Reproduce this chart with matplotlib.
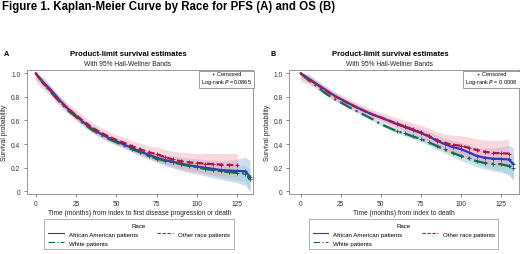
"""Kaplan-Meier curves by race for PFS (A) and OS (B)."""
import matplotlib

matplotlib.use("Agg")
import matplotlib.pyplot as plt
import numpy as np
from matplotlib.lines import Line2D

plt.rcParams["font.family"] = ["Liberation Sans", "DejaVu Sans"]

# Shared time grid (months)
times = [0, 5, 10, 15, 20, 25, 30, 35, 40, 45, 50, 55, 60, 65, 70,
         75, 80, 85, 90, 95, 100, 105, 110, 115, 120, 125, 130, 133]

groups = ["African American patients", "White patients", "Other race patients"]

# Panel A: PFS survival estimates
pfs_aa = [1.0, 0.92, 0.85, 0.77, 0.70, 0.64, 0.58, 0.53, 0.49, 0.455, 0.425,
          0.395, 0.365, 0.335, 0.31, 0.285, 0.265, 0.25, 0.235, 0.22, 0.21,
          0.20, 0.19, 0.18, 0.175, 0.172, 0.17, 0.12]
pfs_white = [1.0, 0.91, 0.83, 0.755, 0.685, 0.63, 0.57, 0.52, 0.48, 0.445,
             0.415, 0.385, 0.355, 0.33, 0.30, 0.275, 0.26, 0.245, 0.23, 0.215,
             0.203, 0.19, 0.18, 0.17, 0.162, 0.155, 0.15, 0.10]
pfs_other = [1.0, 0.91, 0.84, 0.76, 0.70, 0.645, 0.59, 0.54, 0.50, 0.465,
             0.435, 0.41, 0.38, 0.355, 0.33, 0.316, 0.29, 0.27, 0.255, 0.245,
             0.24, 0.235, 0.23, 0.226, 0.223, 0.222]
# Hall-Wellner band half widths
pfs_aa_hw = [0.05, 0.035, 0.03, 0.03, 0.03, 0.03, 0.03, 0.03, 0.03, 0.03,
             0.03, 0.03, 0.032, 0.034, 0.036, 0.04, 0.045, 0.05, 0.055, 0.06,
             0.065, 0.07, 0.075, 0.08, 0.09, 0.1, 0.12, 0.14]
pfs_white_hw = [0.03, 0.02, 0.015, 0.015, 0.015, 0.015, 0.015, 0.015, 0.015,
                0.015, 0.015, 0.015, 0.016, 0.018, 0.02, 0.022, 0.025, 0.028,
                0.03, 0.033, 0.036, 0.04, 0.045, 0.05, 0.055, 0.06, 0.07, 0.09]
pfs_other_hw = [0.07, 0.05, 0.045, 0.045, 0.045, 0.045, 0.045, 0.045, 0.045,
                0.045, 0.045, 0.045, 0.048, 0.05, 0.055, 0.06, 0.065, 0.07,
                0.075, 0.08, 0.08, 0.085, 0.09, 0.095, 0.095, 0.1]

# Panel B: OS survival estimates
os_aa = [1.0, 0.955, 0.91, 0.865, 0.82, 0.782, 0.745, 0.712, 0.68, 0.65,
         0.625, 0.598, 0.57, 0.545, 0.52, 0.495, 0.465, 0.43, 0.40, 0.375,
         0.358, 0.33, 0.30, 0.285, 0.276, 0.274, 0.27, 0.23]
os_white = [1.0, 0.94, 0.89, 0.835, 0.79, 0.754, 0.715, 0.68, 0.645, 0.61,
            0.57, 0.54, 0.51, 0.49, 0.465, 0.443, 0.415, 0.385, 0.355, 0.325,
            0.30, 0.28, 0.255, 0.24, 0.232, 0.23, 0.215, 0.20]
os_other = [1.0, 0.95, 0.905, 0.86, 0.815, 0.78, 0.745, 0.71, 0.68, 0.65,
            0.627, 0.60, 0.575, 0.55, 0.525, 0.50, 0.47, 0.435, 0.41, 0.395,
            0.386, 0.37, 0.35, 0.335, 0.325, 0.322, 0.32]
os_aa_hw = [0.05, 0.03, 0.025, 0.025, 0.025, 0.025, 0.025, 0.025, 0.025,
            0.025, 0.025, 0.027, 0.03, 0.032, 0.035, 0.038, 0.04, 0.045, 0.05,
            0.055, 0.06, 0.065, 0.07, 0.08, 0.09, 0.1, 0.12, 0.14]
os_white_hw = [0.03, 0.015, 0.012, 0.012, 0.012, 0.012, 0.012, 0.012, 0.013,
               0.014, 0.015, 0.016, 0.018, 0.02, 0.022, 0.025, 0.028, 0.03,
               0.033, 0.036, 0.04, 0.045, 0.05, 0.055, 0.06, 0.07, 0.08, 0.1]
os_other_hw = [0.07, 0.045, 0.04, 0.04, 0.04, 0.04, 0.04, 0.04, 0.04, 0.04,
               0.042, 0.045, 0.048, 0.05, 0.055, 0.06, 0.065, 0.07, 0.075,
               0.08, 0.085, 0.09, 0.095, 0.1, 0.105, 0.11, 0.12]

pvalues = ["=0.0865", "= 0.0008"]
xlabels = ["Time (months) from index to first disease progression or death",
           "Time (months) from index to death"]

colors = ["#3535c0", "#0f6b52", "#b3143f"]
band_colors = ["#9fb0e6", "#8fcfc6", "#f2a9b6"]
styles = ["-", (0, (6, 2, 1, 2)), (0, (3, 1.5))]
xticks = [0, 25, 50, 75, 100, 125]


def draw_panel(ax, curves, widths, xlabel, pval):
    t_all = np.array(times)
    for i, (surv, hw) in enumerate(zip(curves, widths)):
        s = np.array(surv)
        t = t_all[: len(s)]
        h = np.array(hw)
        ax.fill_between(t, np.clip(s - h, 0, 1), np.clip(s + h, 0, 1),
                        color=band_colors[i], alpha=0.45, lw=0)
    for i, surv in enumerate(curves):
        s = np.array(surv)
        t = t_all[: len(s)]
        ax.plot(t, s, color=colors[i], lw=1.6, ls=styles[i],
                marker="+", ms=3.2, mew=0.7,
                markevery=list(range(12, len(s))))
    ax.set_ylim(-0.023, 1.028)
    ax.set_yticks([0, 0.2, 0.4, 0.6, 0.8, 1.0])
    ax.set_yticklabels(["0", "0.2", "0.4", "0.6", "0.8", "1.0"])
    ax.set_xticks(xticks)
    ax.tick_params(labelsize=4.8, length=2, width=0.5, pad=2.5,
                   color="#555555", labelcolor="#333333")
    for sp in ax.spines.values():
        sp.set_color("#888888")
        sp.set_linewidth(0.6)
    ax.set_xlabel(xlabel, fontsize=4.8, labelpad=1.5, color="#222222")
    ax.set_ylabel("Survival probability", fontsize=4.8, labelpad=2,
                  color="#222222")
    ax.text(0.995, 0.99, "+ Censored\nLog-rank $P$ " + pval,
            transform=ax.transAxes, ha="right", va="top", fontsize=4.1,
            multialignment="center", linespacing=1.1,
            bbox=dict(boxstyle="square,pad=0.35", fc="white",
                      ec="#777777", lw=0.5))


fig = plt.figure(figsize=(5.2, 2.55), dpi=100)
ax_a = fig.add_axes([0.051, 0.2353, 0.4355, 0.4863])
ax_b = fig.add_axes([0.5558, 0.2353, 0.442, 0.4863])

draw_panel(ax_a, [pfs_aa, pfs_white, pfs_other],
           [pfs_aa_hw, pfs_white_hw, pfs_other_hw], xlabels[0], pvalues[0])
ax_a.set_xlim(-5.7, 134.8)
draw_panel(ax_b, [os_aa, os_white, os_other],
           [os_aa_hw, os_white_hw, os_other_hw], xlabels[1], pvalues[1])
ax_b.set_xlim(-7.3, 136.4)

fig.text(0.004, 0.972, "Figure 1. Kaplan-Meier Curve by Race for PFS (A) and OS (B)",
         fontsize=8.3, fontweight="bold", va="center", ha="left")

for lab, lx, cx in [("A", 6, 128), ("B", 273, 390)]:
    fig.text(lx / 520, 1 - 55 / 255, lab, fontsize=5.2, fontweight="bold",
             va="center", ha="center")
    fig.text(cx / 520, 1 - 55 / 255, "Product-limit survival estimates",
             fontsize=5.6, fontweight="bold", va="center", ha="center")
    fig.text(cx / 520, 1 - 64.5 / 255, "With 95% Hall-Wellner Bands",
             fontsize=4.8, va="center", ha="center", color="#222222")

handles = [Line2D([], [], color=colors[i], ls=styles[i], lw=0.8)
           for i in range(3)]
for cx in [139 / 520, 403.7 / 520]:
    leg = fig.legend(handles, groups, loc="lower center",
                     bbox_to_anchor=(cx, 0.008), ncol=2, fontsize=4.4,
                     title="Race", title_fontsize=4.4, frameon=True,
                     fancybox=False, edgecolor="#777777", handlelength=2.6,
                     columnspacing=3.2, handletextpad=0.8, borderpad=0.55,
                     labelspacing=0.6)
    leg.get_frame().set_linewidth(0.5)

fig.savefig("out.png", dpi=100)
